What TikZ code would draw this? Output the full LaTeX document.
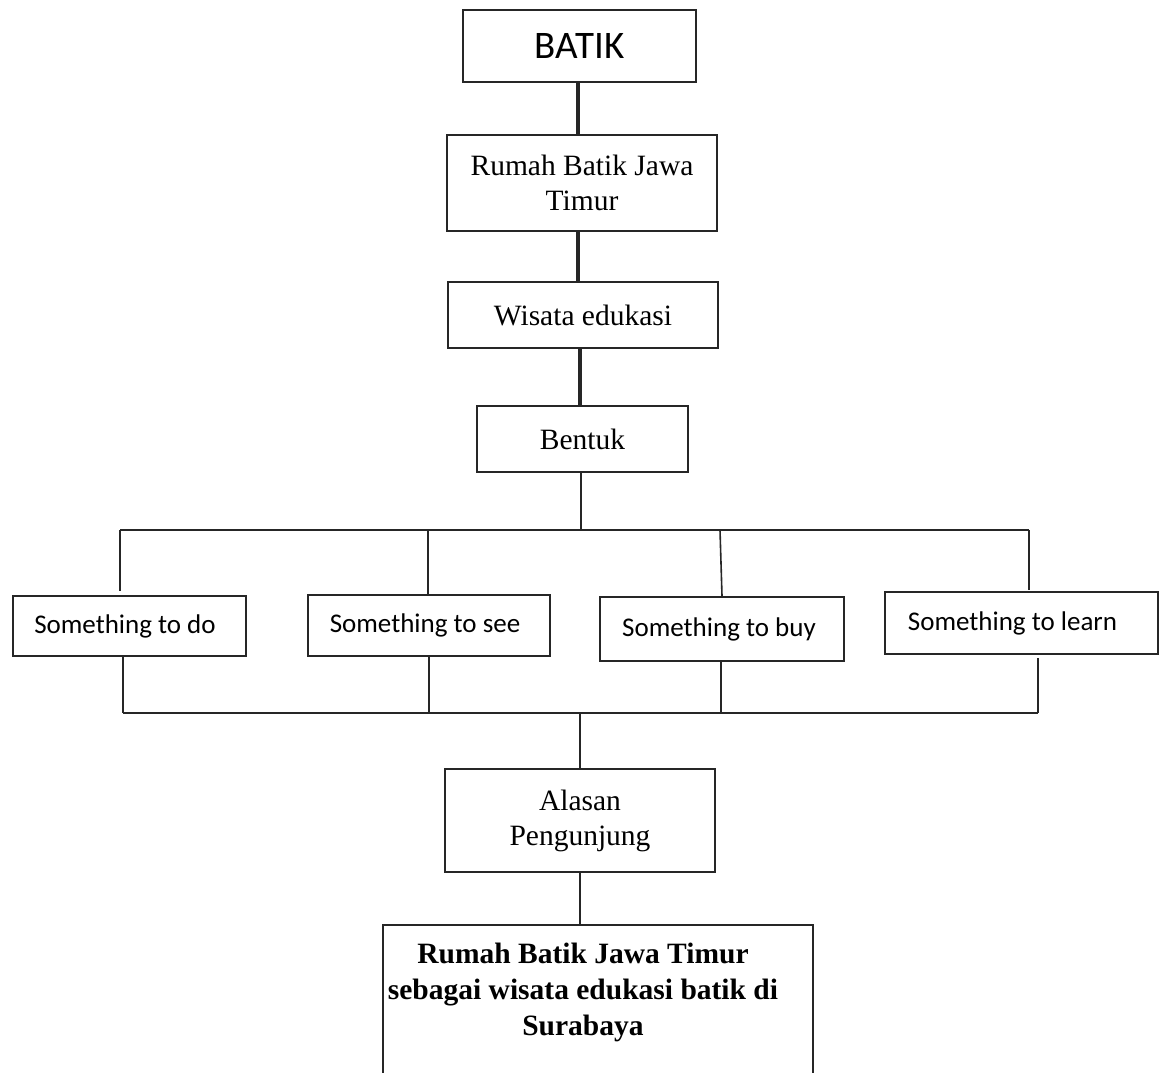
\documentclass[tikz,border=0pt]{standalone}
\usepackage{fontspec}
\setmainfont{Liberation Serif}
\newfontfamily\calib{Carlito}
\begin{document}
\begin{tikzpicture}[x=1pt,y=-1pt,
  box/.style={draw=black!85,line width=2.4pt,rectangle,inner sep=0pt,align=center},
  serifbox/.style={box,font=\fontsize{29.5}{35}\selectfont},
  sombox/.style={box,font=\calib\fontsize{27}{32}\selectfont},
  thickline/.style={draw=black!85,line width=3.2pt},
  thinline/.style={draw=black!85,line width=1.6pt}]
\useasboundingbox (0,0) rectangle (1160,1072);
\clip (0,0) rectangle (1160,1072);
\fill[white] (0,0) rectangle (1160,1072);
% top chain
\node[box,font=\calib\fontsize{39}{46}\selectfont,minimum width=233pt,minimum height=72pt] (batik) at (579.5,46) {BATIK};
\node[serifbox,minimum width=270pt,minimum height=96pt] (rumah) at (582,183) {Rumah Batik Jawa\\Timur};
\node[serifbox,minimum width=270pt,minimum height=66pt] (wisata) at (583,315) {Wisata edukasi};
\node[serifbox,minimum width=211pt,minimum height=66pt] (bentuk) at (582.5,439) {Bentuk};
\draw[thickline] (batik.south -| 578,0) -- (rumah.north -| 578,0);
\draw[thickline] (rumah.south -| 578,0) -- (wisata.north -| 578,0);
\draw[thickline] (wisata.south -| 580,0) -- (bentuk.north -| 580,0);
% four boxes
\node[sombox,minimum width=233pt,minimum height=60pt] (do) at (129.5,626) {\hspace*{-9pt}Something to do};
\node[sombox,minimum width=242pt,minimum height=61pt] (see) at (429,625.5) {\hspace*{-8pt}Something to see};
\node[sombox,minimum width=244pt,minimum height=64pt] (buy) at (722,629) {\hspace*{-6pt}Something to buy};
\node[sombox,minimum width=273pt,minimum height=62pt] (learn) at (1021.5,623) {\hspace*{-18pt}Something to learn};
% upper bus
\coordinate (busT) at (581,530);
\coordinate (tL) at (120,530);
\coordinate (tR) at (1029,530);
\draw[thinline] (bentuk.south -| busT) -- (busT);
\draw[thinline] (tL) -- (tR);
\draw[thinline] (tL) -- (120,591);
\draw[thinline] (428,530) -- (see.north -| 428,0);
\draw[thinline] (720,530) -- (buy.north -| 722,0);
\draw[thinline] (tR) -- (1029,590);
% lower bus
\coordinate (bL) at (123,713);
\coordinate (bR) at (1038,713);
\coordinate (busB) at (580,713);
\draw[thinline] (do.south -| bL) -- (bL);
\draw[thinline] (see.south -| 429,0) -- (429,713);
\draw[thinline] (buy.south -| 721,0) -- (721,713);
\draw[thinline] (1038,658) -- (bR);
\draw[thinline] (bL) -- (bR);
% bottom chain
\node[serifbox,minimum width=270pt,minimum height=103pt] (alasan) at (580,820.5) {Alasan\\Pengunjung};
\node[box,minimum width=430pt,minimum height=180pt,anchor=north] (final) at (598,924) {};
\node[anchor=north,align=center,inner sep=0pt,font=\bfseries\fontsize{29.5}{36}\selectfont] (finaltxt) at (583,943) {Rumah Batik Jawa Timur\\sebagai wisata edukasi batik di\\Surabaya};
\draw[thinline] (busB) -- (alasan.north -| busB);
\draw[thinline] (alasan.south -| busB) -- (final.north -| busB);
\end{tikzpicture}
\end{document}
